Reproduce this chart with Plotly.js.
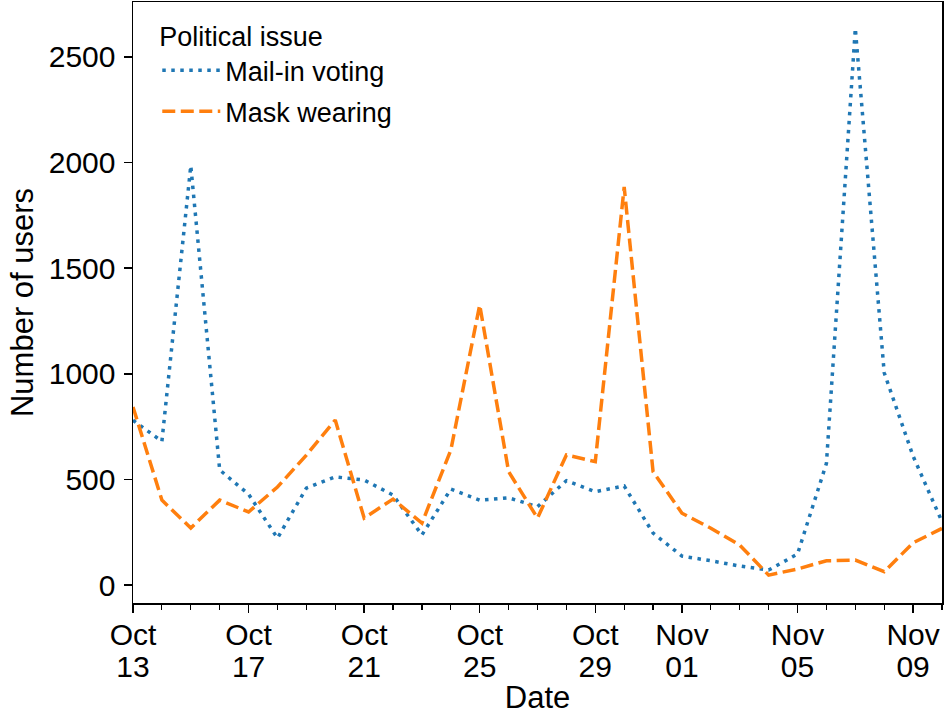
<!DOCTYPE html>
<html>
<head>
<meta charset="utf-8">
<script src="https://cdn.plot.ly/plotly-3.0.1.min.js"></script>
<style>
  html, body { margin: 0; padding: 0; background: #ffffff; }
  #chart { width: 944px; height: 724px; }
</style>
</head>
<body>
<div id="chart"></div>
<script>
const dates = [
  "2020-10-13","2020-10-14","2020-10-15","2020-10-16","2020-10-17","2020-10-18","2020-10-19",
  "2020-10-20","2020-10-21","2020-10-22","2020-10-23","2020-10-24","2020-10-25","2020-10-26",
  "2020-10-27","2020-10-28","2020-10-29","2020-10-30","2020-10-31","2020-11-01","2020-11-02",
  "2020-11-03","2020-11-04","2020-11-05","2020-11-06","2020-11-07","2020-11-08","2020-11-09",
  "2020-11-10"
];
const mailInVoting = [
  780, 680, 1985, 545, 430, 222, 459,
  512, 497, 426, 237, 454, 402, 413,
  371, 494, 442, 469, 246, 137, 115,
  90, 71, 147, 576, 2635, 1005, 610,
  300
];
const maskWearing = [
  843, 402, 270, 402, 346, 464, 615,
  781, 317, 407, 293, 639, 1326, 537,
  317, 616, 584, 1884, 537, 340, 269,
  189, 47, 76, 115, 118, 63, 200,
  268
];
const xTickVals = ["2020-10-13","2020-10-17","2020-10-21","2020-10-25","2020-10-29","2020-11-01","2020-11-05","2020-11-09"];
const xTickMonths = ["Oct","Oct","Oct","Oct","Oct","Nov","Nov","Nov"];
const xTickDays = ["13","17","21","25","29","01","05","09"];
const yTickVals = [0, 500, 1000, 1500, 2000, 2500];

const FONT = "Liberation Sans, Arial, Helvetica, sans-serif";
const X_RANGE = ["2020-10-13", "2020-11-10"];

const traces = [
  {
    x: dates, y: mailInVoting, type: "scatter", mode: "lines",
    name: "Mail-in voting", legendgroup: "a",
    line: { color: "#1f77b4", width: 3.5, dash: "3.5px,5.5px" }
  },
  {
    x: dates, y: maskWearing, type: "scatter", mode: "lines",
    name: "Mask wearing", legendgroup: "b",
    line: { color: "#ff7f0e", width: 3.5, dash: "13px,5.5px" }
  },
  {
    // empty helper trace so that the second (day-number) x axis is drawn
    x: [], y: [], type: "scatter", mode: "lines",
    xaxis: "x2", yaxis: "y", showlegend: false, hoverinfo: "skip"
  }
];

const layout = {
  width: 944, height: 724,
  margin: { l: 133, r: 2, t: 2, b: 121, pad: 0 },
  paper_bgcolor: "#ffffff", plot_bgcolor: "#ffffff",
  font: { family: FONT, size: 30, color: "#000000" },
  showlegend: true,
  legend: {
    x: 0.03, y: 0.985, xanchor: "left", yanchor: "top",
    bgcolor: "rgba(0,0,0,0)", borderwidth: 0,
    title: { text: "Political issue", font: { family: FONT, size: 27 } },
    font: { family: FONT, size: 27 },
    itemwidth: 58,
    tracegroupgap: 3
  },
  xaxis: {
    type: "date",
    range: X_RANGE,
    tickvals: xTickVals, ticktext: xTickMonths,
    ticks: "outside", ticklen: 8, tickwidth: 1.5, tickcolor: "#000",
    ticklabelstandoff: -4,
    minor: { dtick: 86400000, tick0: "2020-10-13", ticks: "outside", ticklen: 5, tickwidth: 1.2, tickcolor: "#000", showgrid: false },
    showgrid: false, zeroline: false,
    showline: true, linecolor: "#000", linewidth: 1.5, mirror: true,
    tickfont: { family: FONT, size: 30 },
    automargin: false
  },
  xaxis2: {
    type: "date",
    range: X_RANGE,
    overlaying: "x", anchor: "y", side: "bottom",
    tickvals: xTickVals, ticktext: xTickDays,
    ticks: "outside", ticklen: 8, tickcolor: "rgba(0,0,0,0)",
    ticklabelstandoff: 29,
    showgrid: false, zeroline: false, showline: false,
    tickfont: { family: FONT, size: 30 },
    title: { text: "Date", font: { family: FONT, size: 31 }, standoff: 4 },
    automargin: false
  },
  yaxis: {
    range: [-85, 2760],
    tickvals: yTickVals,
    ticks: "outside", ticklen: 8, tickwidth: 1.5, tickcolor: "#000",
    ticklabelstandoff: 2,
    showgrid: false, zeroline: false,
    showline: true, linecolor: "#000", linewidth: 1.5, mirror: true,
    tickfont: { family: FONT, size: 30 },
    title: { text: "Number of users", font: { family: FONT, size: 31 }, standoff: 6 },
    automargin: false
  }
};

Plotly.newPlot("chart", traces, layout, { displayModeBar: false, staticPlot: true });
</script>
</body>
</html>
